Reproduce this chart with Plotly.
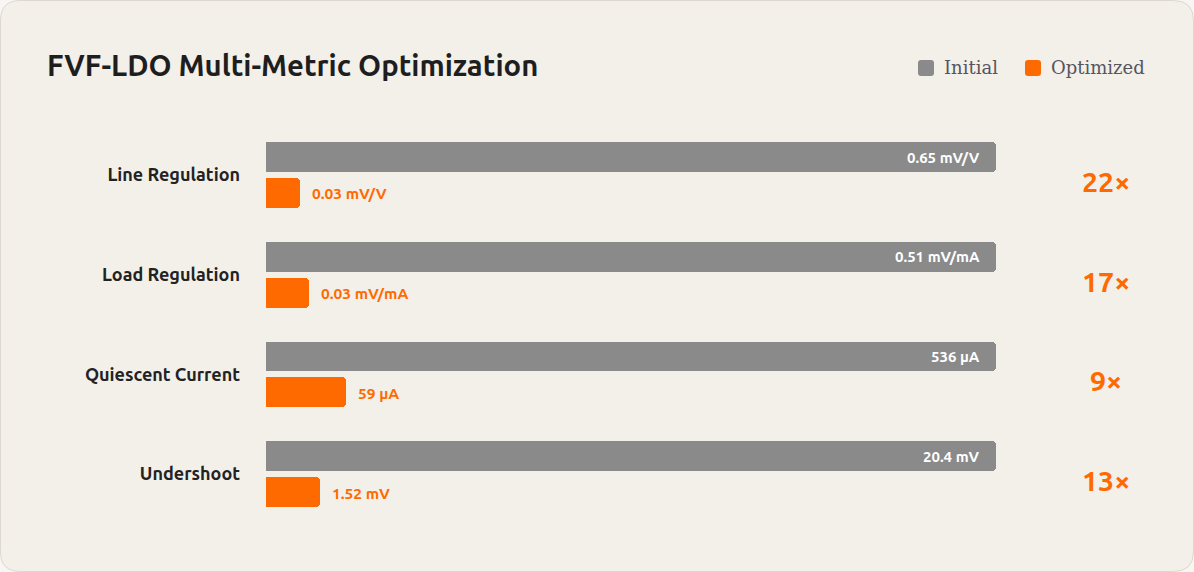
import plotly.graph_objects as go

# ---- data ----
metrics = ["Line Regulation", "Load Regulation", "Quiescent Current", "Undershoot"]
initial = [0.65, 0.51, 536, 20.4]
optimized = [0.03, 0.03, 59, 1.52]
initial_labels = ["0.65 mV/V", "0.51 mV/mA", "536 µA", "20.4 mV"]
optimized_labels = ["0.03 mV/V", "0.03 mV/mA", "59 µA", "1.52 mV"]
series_names = ["Initial", "Optimized"]
title_text = "FVF-LDO Multi-Metric Optimization"

# ---- styling ----
W, H = 1194, 572
PL, PR = 266, 996            # plot area in pixels
ROW0, ROWSTEP = 175, 99.7    # row centre pixel / spacing
GRAY = "#8a8a8a"
ORANGE = "#ff6a00"
CARD = "#f3efe9"
OUTSIDE = "#f8f6f3"
SANS = "Ubuntu, Lato, 'Noto Sans', sans-serif"
SERIF = "'DejaVu Serif', 'Liberation Serif', serif"

def px2paper(px, py):
    return (px - PL) / (PR - PL), 1 - py / H

def rrect(x0, y0, x1, y1, r):
    def p(x, y):
        X, Y = px2paper(x, y)
        return f"{X:.6f},{Y:.6f}"
    d = (f"M {p(x0 + r, y0)} L {p(x1 - r, y0)} Q {p(x1, y0)} {p(x1, y0 + r)} "
         f"L {p(x1, y1 - r)} Q {p(x1, y1)} {p(x1 - r, y1)} "
         f"L {p(x0 + r, y1)} Q {p(x0, y1)} {p(x0, y1 - r)} "
         f"L {p(x0, y0 + r)} Q {p(x0, y0)} {p(x0 + r, y0)} Z")
    return d

n = len(metrics)
rows = list(range(n))
init_frac = [1.0 for _ in rows]
opt_frac = [o / i for o, i in zip(optimized, initial)]
ratios = [round(i / o) for o, i in zip(optimized, initial)]

fig = go.Figure()
fig.add_trace(go.Bar(
    x=init_frac, y=[r - 0.18 for r in rows], orientation="h", width=0.30,
    marker=dict(color=GRAY, cornerradius=4, line_width=0), name=series_names[0],
    hoverinfo="skip"))
fig.add_trace(go.Bar(
    x=opt_frac, y=[r + 0.18 for r in rows], orientation="h", width=0.30,
    marker=dict(color=ORANGE, cornerradius=4, line_width=0), name=series_names[1],
    hoverinfo="skip"))

ann = []
for r in rows:
    ann.append(dict(x=init_frac[r], y=r - 0.18, xref="x", yref="y", text=f"<b>{initial_labels[r]}</b>",
                    showarrow=False, xanchor="right", xshift=-14, font=dict(family=SANS, size=15, color="white")))
    ann.append(dict(x=opt_frac[r], y=r + 0.19, xref="x", yref="y", text=f"<b>{optimized_labels[r]}</b>",
                    showarrow=False, xanchor="left", xshift=10, font=dict(family=SANS, size=15.5, color=ORANGE)))
    rx, ry = px2paper(1106, ROW0 + ROWSTEP * r + 6)
    ann.append(dict(x=rx, y=ry, xref="paper", yref="paper", text=f"<b>{ratios[r]}×</b>",
                    showarrow=False, xanchor="center", yanchor="middle",
                    font=dict(family=SANS, size=28.5, color=ORANGE)))

# title
tx, ty = px2paper(45, 65)
ann.append(dict(x=tx, y=ty, xref="paper", yref="paper", text=f"<b>{title_text}</b>", showarrow=False,
                xanchor="left", yanchor="middle", font=dict(family=SANS, size=29.3, color="#1e1e1e")))

shapes = [dict(type="path", path=rrect(0.5, 0.5, W - 0.5, H - 0.5, 20), xref="paper", yref="paper",
               fillcolor=CARD, line=dict(color="#ddd7ce", width=1), layer="below")]

# legend (manual)
leg = [(918, series_names[0], GRAY), (1025, series_names[1], ORANGE)]
for lx, name, col in leg:
    shapes.append(dict(type="path", path=rrect(lx, 60, lx + 16, 76, 3), xref="paper", yref="paper",
                       fillcolor=col, line_width=0, layer="above"))
    ax_, ay_ = px2paper(lx + 24, 68)
    ann.append(dict(x=ax_, y=ay_, xref="paper", yref="paper", text=name, showarrow=False,
                    xanchor="left", yanchor="middle", font=dict(family=SERIF, size=18, color="#55555f")))

fig.update_layout(
    width=W, height=H, margin=dict(l=PL, r=W - PR, t=0, b=0),
    paper_bgcolor=OUTSIDE, plot_bgcolor="rgba(0,0,0,0)",
    showlegend=False, barmode="overlay", bargap=0,
    xaxis=dict(range=[0, 1], visible=False, fixedrange=True),
    yaxis=dict(range=[(H - ROW0) / ROWSTEP, -ROW0 / ROWSTEP], tickvals=rows, ticktext=metrics,
               showgrid=False, zeroline=False, showline=False, ticks="", ticklabelstandoff=25,
               tickfont=dict(family=SANS, size=18, color="#222222", weight="bold"), fixedrange=True),
    annotations=ann, shapes=shapes,
)

fig.write_html("out.html", config={"displayModeBar": False},
               post_script="document.body.style.margin='0';document.body.style.overflow='hidden';")
